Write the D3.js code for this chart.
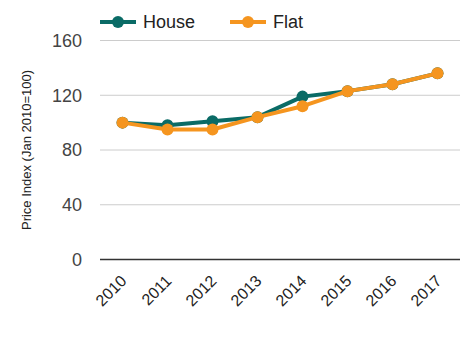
<!DOCTYPE html>
<html><head><meta charset="utf-8">
<script src="https://cdn.jsdelivr.net/npm/d3@7"></script>
<style>body{margin:0;background:#fff}svg{display:block;font-family:Arial,"Liberation Sans",sans-serif}</style>
</head><body><svg id="c" width="470" height="360"></svg>
<script>
const years = ["2010","2011","2012","2013","2014","2015","2016","2017"];
const house = [100, 98, 101, 104, 119, 123, 128, 136];
const flat = [100, 95, 95, 104, 112, 123, 128, 136];
const yTicks = [0, 40, 80, 120, 160];
const seriesNames = ["House", "Flat"];
const colors = ["#0a6b66", "#f5951f"];

const svg = d3.select("#c");
const x = d3.scalePoint().domain(years).range([122.5, 437.5]);
const y = d3.scaleLinear().domain([0, 160]).range([259.5, 40.5]);

// gridlines
svg.append("g").selectAll("line").data(yTicks.filter(d => d > 0)).join("line")
  .attr("x1", 100).attr("x2", 460).attr("y1", d => y(d)).attr("y2", d => y(d))
  .attr("stroke", "#cccccc").attr("stroke-width", 1);

// y labels
svg.append("g").selectAll("text").data(yTicks).join("text")
  .attr("x", 82).attr("y", d => y(d)).attr("dy", "0.35em")
  .attr("text-anchor", "end").attr("font-size", 18).attr("fill", "#444")
  .text(d => d);

// baseline
svg.append("line").attr("x1", 100).attr("x2", 460).attr("y1", y(0)).attr("y2", y(0))
  .attr("stroke", "#333").attr("stroke-width", 1.3);

// x labels
svg.append("g").selectAll("text").data(years).join("text")
  .attr("transform", d => `translate(${x(d) + 1},${278}) rotate(-45)`)
  .attr("text-anchor", "end").attr("dy", "0.35em").attr("font-size", 16).attr("fill", "#222")
  .text(d => d);

// axis title
svg.append("text").attr("transform", `translate(26,150) rotate(-90)`)
  .attr("text-anchor", "middle").attr("dy", "0.35em").attr("font-size", 13).attr("fill", "#222")
  .text("Price Index (Jan 2010=100)");

const data = [house, flat];
const line = d3.line().x((d, i) => x(years[i])).y(d => y(d));
data.forEach((s, k) => {
  const g = svg.append("g");
  g.append("path").attr("d", line(s)).attr("fill", "none").attr("stroke", colors[k]).attr("stroke-width", 4).attr("stroke-linejoin", "round");
  g.selectAll("circle").data(s).join("circle")
    .attr("cx", (d, i) => x(years[i])).attr("cy", d => y(d)).attr("r", 6).attr("fill", colors[k]);
});

// legend
const lx = [100, 230];
seriesNames.forEach((n, k) => {
  const g = svg.append("g").attr("transform", `translate(${lx[k]},22)`);
  g.append("line").attr("x1", 0).attr("x2", 36).attr("stroke", colors[k]).attr("stroke-width", 4);
  g.append("circle").attr("cx", 18).attr("r", 6).attr("fill", colors[k]);
  g.append("text").attr("x", 43).attr("dy", "0.35em").attr("font-size", 18).attr("fill", "#222").text(n);
});
</script></body></html>
